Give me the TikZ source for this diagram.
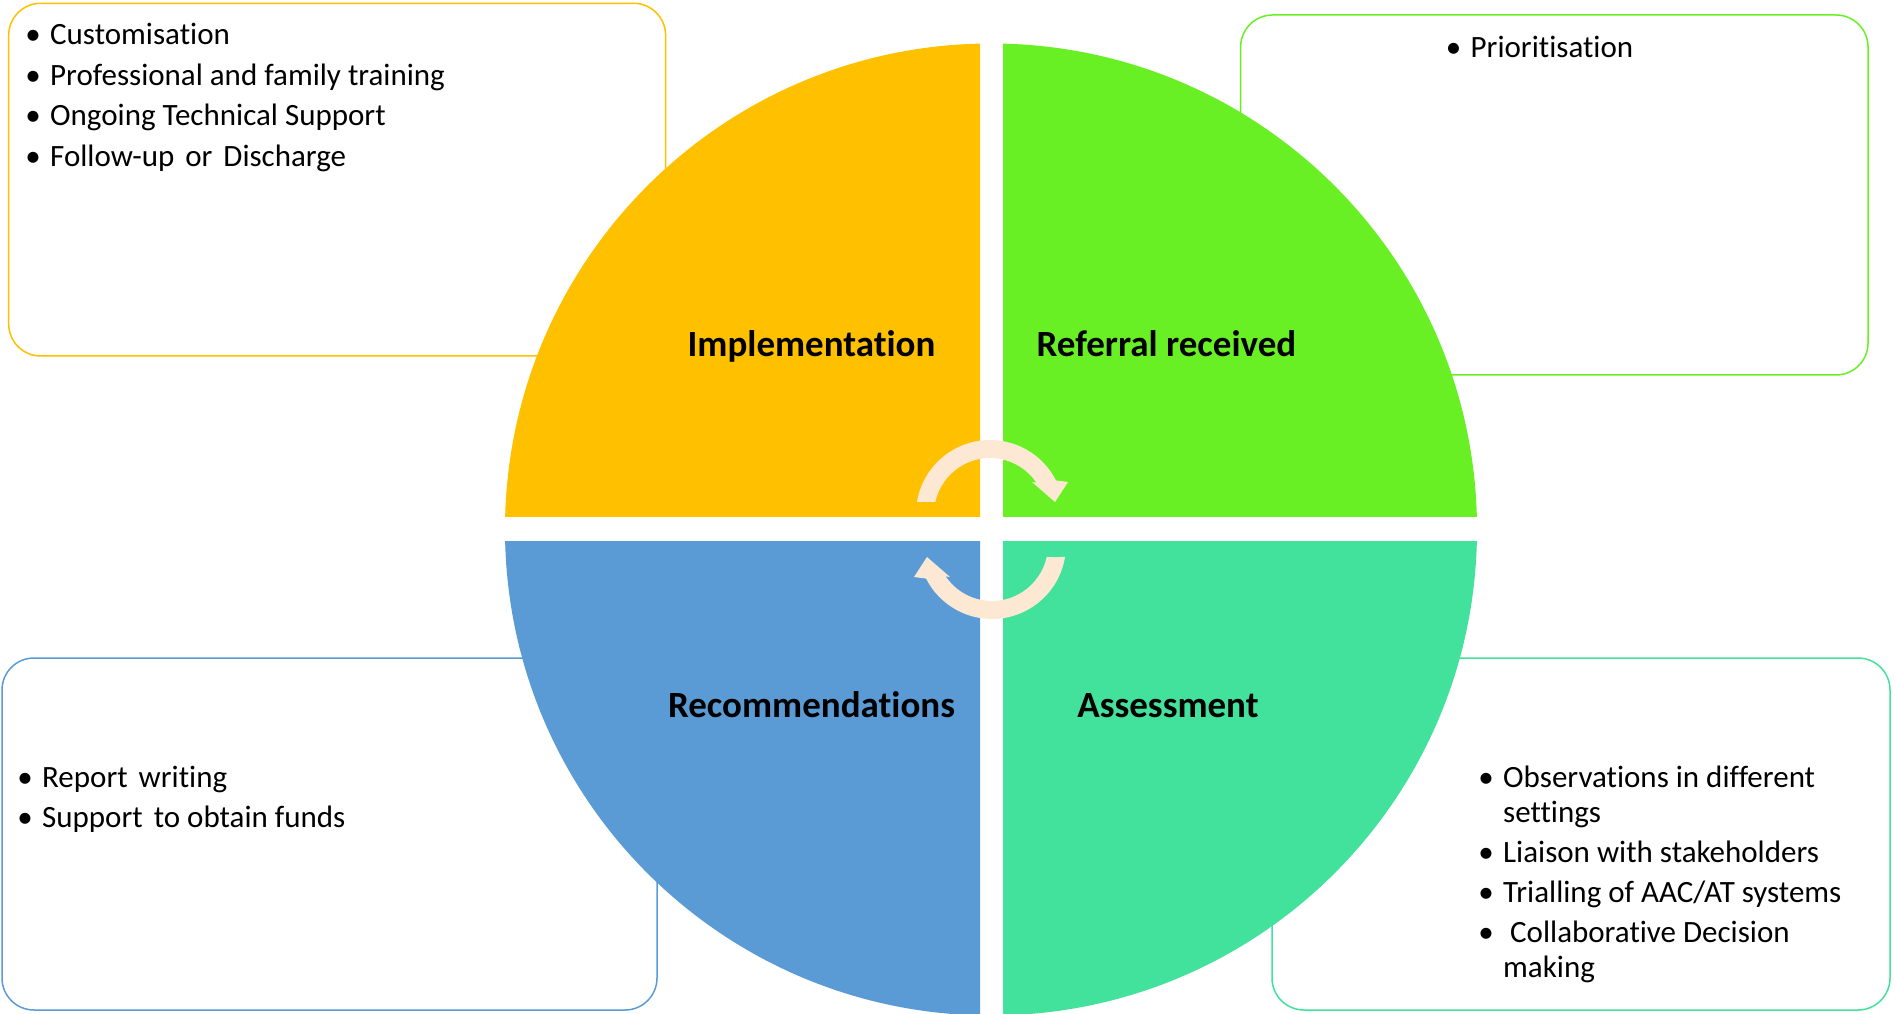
\documentclass[tikz,border=0pt]{standalone}
\usepackage{fontspec}
\setmainfont{Carlito}[Ligatures=CommonOff]
\usepackage{tikz}
\usetikzlibrary{calc}
\definecolor{amarillo}{RGB}{255,192,0}
\definecolor{verde}{RGB}{105,240,36}
\definecolor{turquesa}{RGB}{66,225,156}
\definecolor{azul}{RGB}{91,155,213}
\definecolor{melocoton}{RGB}{253,232,212}

\begin{document}
\begin{tikzpicture}[x=1pt, y=1pt,
  caja/.style={line width=1.5pt, rounded corners=32pt},
  texto/.style={anchor=base west, inner sep=0pt, font=\fontsize{31}{35}\selectfont},
  titulo/.style={anchor=base, inner sep=0pt, font=\fontsize{37}{44}\selectfont\bfseries}]
			\useasboundingbox (0,0) rectangle (1895,1013); % lienzo
			\coordinate (pc) at (991,483.5); % centro
			\draw [caja, amarillo] (8.7,657) rectangle (665.6,1009.7); % caja arriba izq
			\draw [caja, verde] (1240.6,638) rectangle (1868,998); % caja arriba der
			\draw [caja, turquesa] (1272,3) rectangle (1890,355); % caja abajo der
			\draw [caja, azul] (2,3) rectangle (657,355); % caja abajo izq
			\begin{scope}
				\clip ($(pc)+(-11,12.5)$) rectangle ($(pc)+(-500,500)$);
				\fill [amarillo] (pc) circle (486pt); % cuarto arriba izq
			\end{scope}
			\begin{scope}
				\clip ($(pc)+(12,12.5)$) rectangle ($(pc)+(500,500)$);
				\fill [verde] (pc) circle (486pt); % cuarto arriba der
			\end{scope}
			\begin{scope}
				\clip ($(pc)+(12,-12.5)$) rectangle ($(pc)+(500,-500)$);
				\fill [turquesa] (pc) circle (486pt); % cuarto abajo der
			\end{scope}
			\begin{scope}
				\clip ($(pc)+(-11,-12.5)$) rectangle ($(pc)+(-500,-500)$);
				\fill [azul] (pc) circle (486pt); % cuarto abajo izq
			\end{scope}
			\fill [melocoton, shift={(990,499)}] (170.7:74) arc [start angle=170.7, end angle=27, radius=74pt] -- (78,32) -- (65,12) -- (42,32) -- (34:56) arc [start angle=34, end angle=167.5, radius=56pt] -- cycle; % flecha arriba
			\fill [melocoton, shift={(992,468)}] (350.7:74) arc [start angle=350.7, end angle=207, radius=74pt] -- (-78,-32) -- (-65,-12) -- (-42,-32) -- (214:56) arc [start angle=214, end angle=347.5, radius=56pt] -- cycle; % flecha abajo
			\node [titulo] (impl) at (811.5,656) {Implementation};
			\node [titulo] (refe) at (1166.5,656) {Referral received};
			\node [titulo] (reco) at (811.5,296) {Recommendations};
			\node [titulo] (asse) at (1168,296) {Assessment};
			\node [texto] (timpl) at (33,968) {\begin{tabular}[t]{@{}c@{\hspace{17pt}}l@{}}
				\makebox[0pt]{\textbullet} & Customisation\\[5.5pt]
				\makebox[0pt]{\textbullet} & Professional and family training\\[5.5pt]
				\makebox[0pt]{\textbullet} & Ongoing Technical Support\\[5.5pt]
				\makebox[0pt]{\textbullet} & Follow-up\hspace{11pt}or\hspace{11pt}Discharge
			\end{tabular}};
			\node [texto] (trefe) at (1453.5,955) {\begin{tabular}[t]{@{}c@{\hspace{17pt}}l@{}}
				\makebox[0pt]{\textbullet} & Prioritisation
			\end{tabular}};
			\node [texto] (tasse) at (1486,226) {\begin{tabular}[t]{@{}c@{\hspace{17pt}}l@{}}
				\makebox[0pt]{\textbullet} & Observations in different\\
				& settings\\[5pt]
				\makebox[0pt]{\textbullet} & Liaison with stakeholders\\[5pt]
				\makebox[0pt]{\textbullet} & Trialling of AAC/AT systems\\[5pt]
				\makebox[0pt]{\textbullet} & \ Collaborative Decision\\
				& making
			\end{tabular}};
			\node [texto] (treco) at (25,226) {\begin{tabular}[t]{@{}c@{\hspace{17pt}}l@{}}
				\makebox[0pt]{\textbullet} & Report\hspace{11pt}writing\\[5.5pt]
				\makebox[0pt]{\textbullet} & Support\hspace{11pt}to obtain funds
			\end{tabular}};
		\end{tikzpicture}
\end{document}
